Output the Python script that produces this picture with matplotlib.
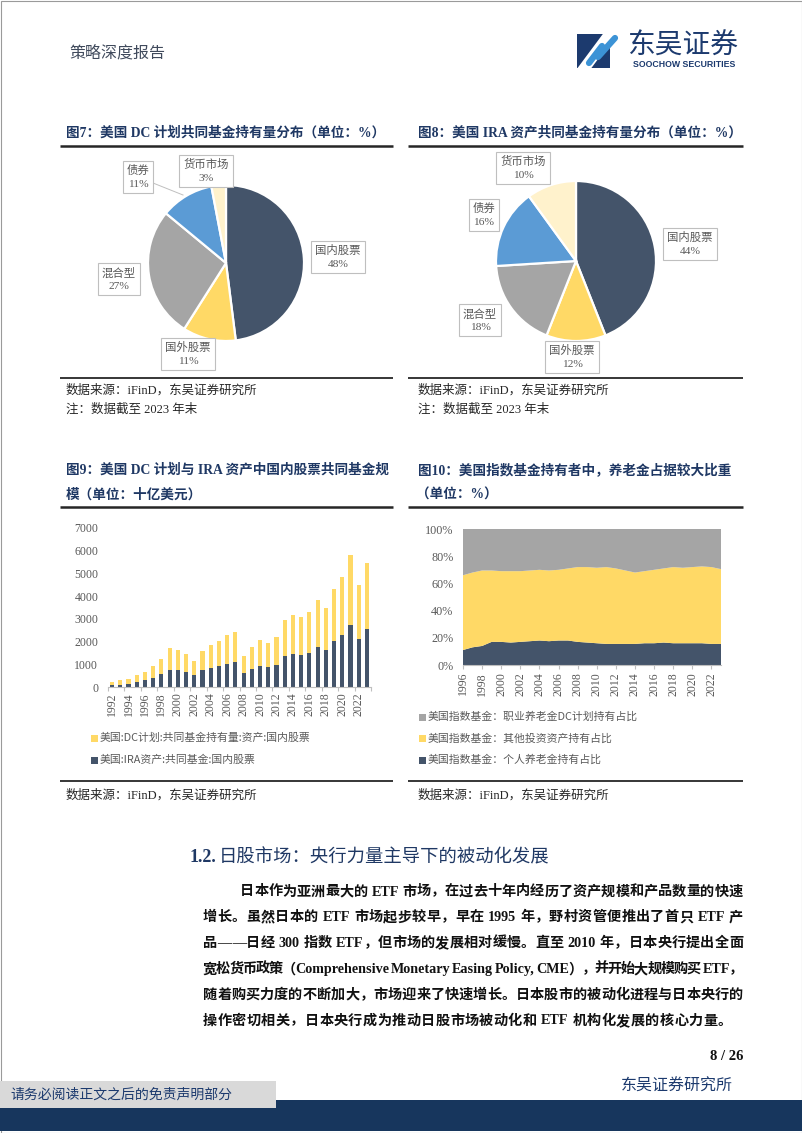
import re
import matplotlib
matplotlib.use('Agg')
import matplotlib.pyplot as plt
from matplotlib.patches import Rectangle
from matplotlib.lines import Line2D

W, H = 802, 1133
SERIF = ['Liberation Serif', 'Noto Sans CJK SC']
SANS = ['Noto Sans CJK SC', 'DejaVu Sans']
plt.rcParams['font.family'] = SERIF
plt.rcParams['axes.unicode_minus'] = False

# ---------------- data ----------------
pie_labels = ['国内股票', '国外股票', '混合型', '债券', '货币市场']
dc_plan_mix = [48, 11, 27, 11, 3]
ira_mix = [44, 12, 18, 16, 10]

bar_years = list(range(1992, 2024))
ira_domestic_equity = [70, 110, 150, 230, 290, 410, 560, 760, 760, 660, 510, 730, 840, 910, 1030, 1100,
                       630, 800, 930, 870, 990, 1350, 1440, 1430, 1500, 1760, 1620, 2030, 2280, 2750, 2130, 2560]
dc_domestic_equity = [150, 180, 220, 290, 370, 520, 690, 940, 890, 790, 640, 870, 1000, 1100, 1240, 1300,
                      740, 970, 1120, 1050, 1190, 1590, 1750, 1670, 1790, 2060, 1840, 2280, 2570, 3060, 2380, 2880]
bar_ticks = list(range(1992, 2023, 2))
bar_yticks = [0, 1000, 2000, 3000, 4000, 5000, 6000, 7000]
bar_legend = ['美国:DC计划:共同基金持有量:资产:国内股票', '美国:IRA资产:共同基金:国内股票']

area_years = list(range(1996, 2024))
individual_share = [11, 13, 14, 17, 17, 16.5, 17, 17.5, 18, 17.5, 18, 18, 17, 16.5, 16, 15.5, 15.5, 15.5,
                    15.5, 16, 16, 16.5, 16, 16, 16, 16, 15.5, 15.5]
other_share = [55, 55, 55.5, 52.5, 52, 52.5, 52, 52, 52, 52, 52, 53, 55, 55.5, 55.5, 56.5, 55.5, 54,
               52.5, 53, 54, 54.5, 56, 55.5, 56, 56.5, 56.5, 55]
dc_share = [34, 32, 30.5, 30.5, 31, 31, 31, 30.5, 30, 30.5, 30, 29, 28, 28, 28.5, 28, 29, 30.5,
            32, 31, 30, 29, 28, 28.5, 28, 27.5, 28, 29.5]
area_ticks = list(range(1996, 2023, 2))
area_yticks = [0, 20, 40, 60, 80, 100]
area_legend = ['美国指数基金：职业养老金DC计划持有占比', '美国指数基金：其他投资资产持有占比',
               '美国指数基金：个人养老金持有占比']

DARK = '#44546A'
YELLOW = '#FFD966'
GRAY = '#A5A5A5'
BLUE = '#5B9BD5'
CREAM = '#FFF2CC'
pie_colors = [DARK, YELLOW, GRAY, BLUE, CREAM]
NAVY = '#1F3864'
TXT = '#595959'

fig = plt.figure(figsize=(W / 100, H / 100), dpi=100)
fig.patch.set_facecolor('white')


def fx(x):
    return x / W


def fy(y):
    return 1 - y / H


def txt(x, y, s, **kw):
    kw.setdefault('va', 'center')
    return fig.text(fx(x), fy(y), s, **kw)


def hline(x0, x1, y, lw, color='#262626'):
    fig.add_artist(Line2D([fx(x0), fx(x1)], [fy(y), fy(y)], lw=lw, color=color, solid_capstyle='butt'))


def add_ax(x0, y0, x1, y1):
    return fig.add_axes([fx(x0), fy(y1), (x1 - x0) / W, (y1 - y0) / H])


def rect(x0, y0, x1, y1, **kw):
    fig.add_artist(Rectangle((fx(x0), fy(y1)), (x1 - x0) / W, (y1 - y0) / H, transform=fig.transFigure, **kw))


# ---------------- page frame / header ----------------
rect(0.5, 0.5, 801.5, 1132.5, fill=False, ec='#9A9A9A', lw=0.8)
txt(69, 53, '策略深度报告', fontsize=11.5, color='#404A5C', family=SANS)

# logo
rect(577, 34, 610, 68, fc='#1C3A6E', ec='none')
fig.add_artist(Line2D([fx(583), fx(612)], [fy(70), fy(31)], lw=8, color='white'))
fig.add_artist(Line2D([fx(589), fx(602)], [fy(63), fy(46)], lw=4.5, color='#3C93D6', solid_capstyle='round'))
fig.add_artist(Line2D([fx(598), fx(615)], [fy(57), fy(38)], lw=4.5, color='#3C93D6', solid_capstyle='round'))
txt(683, 46, '东吴证券', fontsize=20, color='#1C3A6E', family=SANS, ha='center')
txt(684.5, 64.5, 'SOOCHOW SECURITIES', fontsize=6.3, color='#1C3A6E', family=['Liberation Sans'],
    weight='bold', ha='center')

# ---------------- titles ----------------
TITLE_KW = dict(fontsize=9.8, color=NAVY, weight='bold')
txt(66, 133, '图7：美国 DC 计划共同基金持有量分布（单位：%）', **TITLE_KW)
txt(418, 133, '图8：美国 IRA 资产共同基金持有量分布（单位：%）', **TITLE_KW)
hline(60, 393, 146, 1.8)
hline(408, 743, 146, 1.8)


# ---------------- pies ----------------
def draw_pie(cx, cy, r, values, label_pos):
    ax = add_ax(cx - r, cy - r, cx + r, cy + r)
    wedges, _ = ax.pie(values, colors=pie_colors, startangle=90, counterclock=False, radius=1,
                       wedgeprops=dict(edgecolor='white', linewidth=1.6))
    for w in wedges:
        w.set_clip_on(False)
    ax.set_xlim(-1, 1)
    ax.set_ylim(-1, 1)
    ax.axis('off')
    for lab, val, (lx, ly) in zip(pie_labels, values, label_pos):
        txt(lx, ly, f'{lab}\n{val}%', ha='center', fontsize=8.2, color=TXT, linespacing=1.5,
            bbox=dict(boxstyle='square,pad=0.35', fc='white', ec='#BFBFBF', lw=0.8))


draw_pie(226, 263, 78, dc_plan_mix, [(338, 257), (188, 354), (119, 279), (138, 177), (206, 171)])
fig.add_artist(Line2D([fx(153), fx(183)], [fy(183), fy(195)], lw=0.7, color='#BFBFBF'))
draw_pie(576, 261, 80, ira_mix, [(690, 244), (572, 357), (480, 320), (484, 215), (523, 168)])

SRC_KW = dict(fontsize=9, color='#262626')
hline(60, 393, 378, 1.3)
hline(408, 743, 378, 1.3)
for x in (66, 418):
    txt(x, 390, '数据来源：iFinD，东吴证券研究所', **SRC_KW)
    txt(x, 410, '注：数据截至 2023 年末', **SRC_KW)

# ---------------- figure 9 / 10 titles ----------------
txt(66, 470, '图9：美国 DC 计划与 IRA 资产中国内股票共同基金规', **TITLE_KW)
txt(66, 495, '模（单位：十亿美元）', **TITLE_KW)
txt(418, 470, '图10：美国指数基金持有者中，养老金占据较大比重', **TITLE_KW)
txt(416, 495, '（单位：%）', **TITLE_KW)
hline(60, 393, 507, 1.8)
hline(408, 743, 507, 1.8)

# ---------------- bar chart ----------------
ax = add_ax(108, 528, 371, 687)
ax.bar(bar_years, ira_domestic_equity, width=0.5, color=DARK, zorder=2)
ax.bar(bar_years, dc_domestic_equity, bottom=ira_domestic_equity, width=0.5, color=YELLOW, zorder=2)
ax.set_xlim(1991.5, 2023.5)
ax.set_ylim(0, 7000)
ax.set_yticks(bar_yticks)
ax.set_yticklabels([str(v) for v in bar_yticks])
ax.set_xticks(bar_ticks)
ax.set_xticklabels([str(v) for v in bar_ticks], rotation=90)
ax.set_xticks([y - 0.5 for y in range(1992, 2025, 2)], minor=True)
for s in ('top', 'right', 'left'):
    ax.spines[s].set_visible(False)
ax.spines['bottom'].set_color('#BFBFBF')
ax.spines['bottom'].set_linewidth(0.8)
ax.tick_params(axis='y', length=0, pad=7, labelsize=8.5, labelcolor=TXT)
ax.tick_params(axis='x', which='major', length=0, pad=4, labelsize=8.5, labelcolor=TXT)
ax.tick_params(axis='x', which='minor', length=3, width=0.8, color='#BFBFBF')
ax.patch.set_alpha(0)

LEG_KW = dict(fontsize=7.8, color=TXT, family=SANS)
for i, (lab, col) in enumerate(zip(bar_legend, [YELLOW, DARK])):
    y = 738 + 22 * i
    rect(91, y - 3.5, 98, y + 3.5, fc=col, ec='none')
    txt(100, y, lab, **LEG_KW)

# ---------------- area chart ----------------
ax2 = add_ax(463, 529, 721, 665)
ax2.stackplot(area_years, individual_share, other_share, dc_share, colors=[DARK, YELLOW, GRAY], lw=0)
ax2.set_xlim(1996, 2023)
ax2.set_ylim(0, 100)
ax2.set_yticks(area_yticks)
ax2.set_yticklabels([f'{v}%' for v in area_yticks])
ax2.set_xticks(area_ticks)
ax2.set_xticklabels([str(v) for v in area_ticks], rotation=90)
for s in ('top', 'right', 'left'):
    ax2.spines[s].set_visible(False)
ax2.spines['bottom'].set_color('#BFBFBF')
ax2.spines['bottom'].set_linewidth(0.8)
ax2.tick_params(axis='y', length=0, pad=7, labelsize=8.7, labelcolor=TXT)
ax2.tick_params(axis='x', length=3, width=0.8, color='#BFBFBF', pad=2, labelsize=8.5, labelcolor=TXT)

for i, (lab, col) in enumerate(zip(area_legend, [GRAY, YELLOW, DARK])):
    y = 717 + 21.5 * i
    rect(419, y - 3.5, 426, y + 3.5, fc=col, ec='none')
    txt(428, y, lab, **LEG_KW)

hline(60, 393, 781, 1.3)
hline(408, 743, 781, 1.3)
txt(66, 795, '数据来源：iFinD，东吴证券研究所', **SRC_KW)
txt(418, 795, '数据来源：iFinD，东吴证券研究所', **SRC_KW)

# ---------------- section text ----------------
txt(190, 857, '1.2.', fontsize=13, color=NAVY, weight='bold')
txt(219, 857, '日股市场：央行力量主导下的被动化发展', fontsize=13.2, color=NAVY, family=SANS)

renderer = fig.canvas.get_renderer()
BODY_KW = dict(fontsize=10.2, color='#111111', weight='bold')


def measure(s):
    t = fig.text(0, 0, s, **BODY_KW)
    w = t.get_window_extent(renderer).width
    t.remove()
    return w


SPACE_W = measure('x x') - measure('xx')


def body_line(s, x0, x1, y, justify=True):
    tokens = re.findall(r'[A-Za-z0-9\.,]+| |.', s)
    widths = [SPACE_W if t == ' ' else measure(t) for t in tokens]
    extra = (x1 - x0 - sum(widths)) / max(len(tokens) - 1, 1) if justify else 0.4
    x = x0
    for t, w in zip(tokens, widths):
        if t != ' ':
            txt(x, y, t, ha='left', **BODY_KW)
        x += w + extra


body = [
    ('日本作为亚洲最大的 ETF 市场，在过去十年内经历了资产规模和产品数量的快速', 240, True),
    ('增长。虽然日本的 ETF 市场起步较早，早在 1995 年，野村资管便推出了首只 ETF 产', 203, True),
    ('品——日经 300 指数 ETF，但市场的发展相对缓慢。直至 2010 年，日本央行提出全面', 203, True),
    ('宽松货币政策（Comprehensive Monetary Easing Policy, CME），并开始大规模购买 ETF，', 203, True),
    ('随着购买力度的不断加大，市场迎来了快速增长。日本股市的被动化进程与日本央行的', 203, True),
    ('操作密切相关，日本央行成为推动日股市场被动化和 ETF 机构化发展的核心力量。', 203, False),
]
for i, (s, x0, j) in enumerate(body):
    body_line(s, x0, 743, 892 + 25.8 * i, j)

# ---------------- footer ----------------
txt(743, 1057, '8 / 26', ha='right', fontsize=10.5, weight='bold', color='#111111')
txt(733, 1086, '东吴证券研究所', ha='right', fontsize=11.5, color='#1C3A6E', family=SANS)
rect(0, 1100, 802, 1131, fc='#17365D', ec='none')
rect(0, 1081, 276, 1108, fc='#D9D9D9', ec='none')
txt(10, 1095, '请务必阅读正文之后的免责声明部分', fontsize=10, color='#1C3A6E', family=SANS)

fig.savefig('out.png', dpi=100, facecolor='white')
